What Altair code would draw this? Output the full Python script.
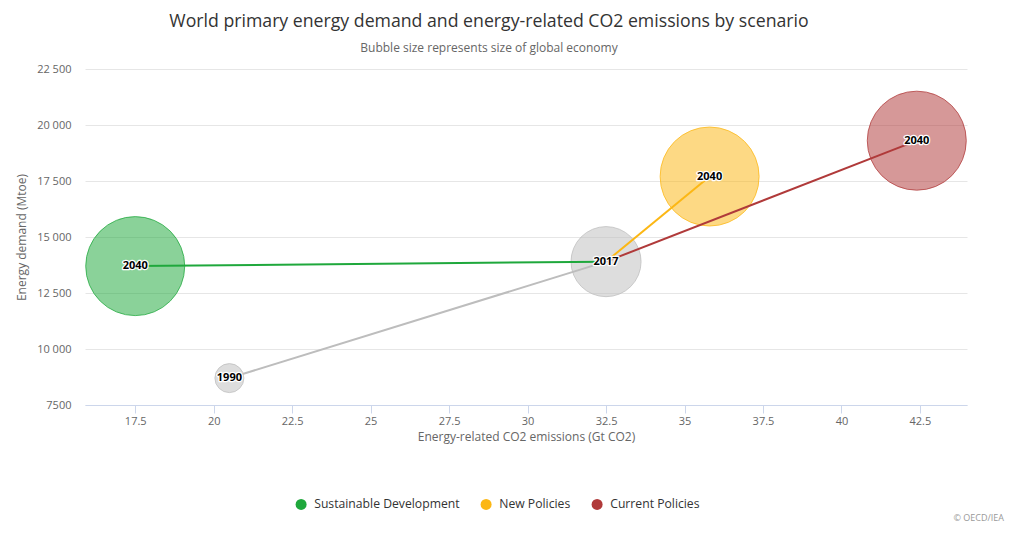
import altair as alt
import pandas as pd

# ---- data ----
years = [1990, 2017, 2040, 2040, 2040]
scenarios = ["Historical", "Historical", "Sustainable Development", "New Policies", "Current Policies"]
co2 = [20.5, 32.5, 17.5, 35.8, 42.4]            # Gt CO2
demand = [8700, 13900, 13700, 17700, 19300]     # Mtoe
economy = [50, 125, 215, 215, 215]              # size of global economy (trillion USD, PPP)

legend_names = ["Sustainable Development", "New Policies", "Current Policies"]
color_domain = legend_names + ["Historical"]
color_range = ["#1fa83c", "#fcb714", "#b03a3a", "#bdbdbd"]

x_ticks = [17.5, 20, 22.5, 25, 27.5, 30, 32.5, 35, 37.5, 40, 42.5]
y_ticks = [7500, 10000, 12500, 15000, 17500, 20000, 22500]

points = pd.DataFrame({
    "year": years, "scenario": scenarios, "co2": co2,
    "demand": demand, "economy": economy,
})
points["label"] = points["year"].astype(str)

# line segments: 1990 -> 2017 (historical), 2017 -> each 2040 scenario
rows = []
rows.append({"segment": "Historical", "order": 0, "co2": co2[0], "demand": demand[0]})
rows.append({"segment": "Historical", "order": 1, "co2": co2[1], "demand": demand[1]})
for i in range(2, 5):
    rows.append({"segment": scenarios[i], "order": 0, "co2": co2[1], "demand": demand[1]})
    rows.append({"segment": scenarios[i], "order": 1, "co2": co2[i], "demand": demand[i]})
lines = pd.DataFrame(rows)

FONT = "Open Sans"

x_enc = alt.X(
    "co2:Q",
    scale=alt.Scale(domain=[15.9, 44.0], nice=False, zero=False),
    axis=alt.Axis(
        values=x_ticks, labelExpr="format(datum.value, '.1~f')",
        title="Energy-related CO2 emissions (Gt CO2)",
        grid=False, domainColor="#ccd6eb", tickColor="#ccd6eb", tickSize=8,
        labelPadding=2, titlePadding=5,
    ),
)
y_enc = alt.Y(
    "demand:Q",
    scale=alt.Scale(domain=[7500, 22500], nice=False, zero=False),
    axis=alt.Axis(
        values=y_ticks, title="Energy demand (Mtoe)", grid=True, gridColor="#e6e6e6",
        domain=False, ticks=False, labelPadding=14, titlePadding=8,
        labelExpr="datum.value >= 10000 ? replace(format(datum.value, ','), ',', ' ') : format(datum.value, 'd')",
    ),
)

leg = alt.Legend(
    title=None, orient="none", legendX=210, legendY=429, direction="horizontal",
    symbolType="circle", symbolSize=121, symbolOpacity=1, symbolStrokeWidth=0,
    labelFont=FONT, labelFontSize=12.2, labelColor="#333333", labelOffset=7,
    columnPadding=20, values=legend_names,
)

bubbles = alt.Chart(points).mark_circle(
    fillOpacity=0.52, strokeOpacity=0.75, strokeWidth=1
).encode(
    x=x_enc, y=y_enc,
    color=alt.Color("scenario:N", scale=alt.Scale(domain=color_domain, range=color_range), legend=leg),
    stroke=alt.Stroke("scenario:N", scale=alt.Scale(domain=color_domain, range=color_range), legend=None),
    size=alt.Size("economy:Q", scale=alt.Scale(domain=[50, 215], range=[841, 9801]), legend=None),
)

seg_lines = alt.Chart(lines).mark_line(strokeWidth=2).encode(
    x="co2:Q", y="demand:Q",
    color=alt.Color("segment:N", scale=alt.Scale(domain=color_domain, range=color_range), legend=leg),
    detail="segment:N",
    order="order:Q",
)

halo = alt.Chart(points).mark_text(
    font=FONT, fontSize=11, fontWeight="bold", fill="white", stroke="white",
    strokeWidth=2.5, strokeJoin="round",
).encode(x="co2:Q", y="demand:Q", text="label:N")

labels = alt.Chart(points).mark_text(
    font=FONT, fontSize=11, fontWeight="bold", fill="#000000",
).encode(x="co2:Q", y="demand:Q", text="label:N")

credit = alt.Chart(pd.DataFrame({"t": ["© OECD/IEA"]})).mark_text(
    font=FONT, fontSize=9, color="#999999", align="right", baseline="middle",
).encode(x=alt.value(919), y=alt.value(449), text="t:N")

chart = alt.layer(bubbles, seg_lines, halo, labels, credit).resolve_scale(
    stroke="independent"
).properties(
    width=882, height=336,
    padding={"left": 77, "top": 61, "right": 40, "bottom": 122},
    autosize=alt.AutoSizeParams(type="none"),
    title=alt.TitleParams(
        text="World primary energy demand and energy-related CO2 emissions by scenario",
        subtitle="Bubble size represents size of global economy",
        font=FONT, fontSize=17.7, fontWeight="normal", color="#333333",
        subtitleFont=FONT, subtitleFontSize=12, subtitleColor="#666666",
        subtitlePadding=12, anchor="middle", dx=-37, offset=9,
    ),
).configure_view(stroke=None).configure_axis(
    labelFont=FONT, labelFontSize=11, labelColor="#666666",
    titleFont=FONT, titleFontSize=12, titleColor="#666666", titleFontWeight="normal",
)

chart.save("out.html", embed_options={"renderer": "svg", "actions": False})
